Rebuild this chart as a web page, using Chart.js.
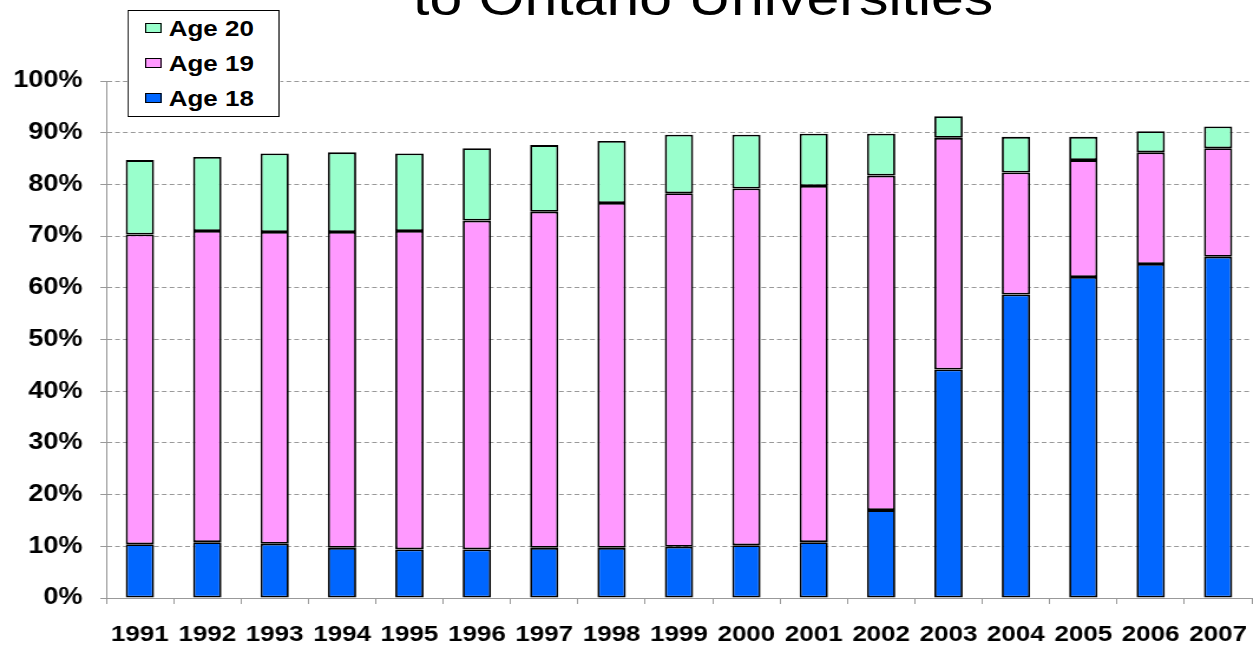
<!DOCTYPE html>
<html>
<head>
<meta charset="utf-8">
<script src="https://cdn.jsdelivr.net/npm/chart.js@4.4.0/dist/chart.umd.min.js"></script>
<style>
    html, body { margin:0; padding:0; background:#fff; overflow:hidden; }
    body { width:1253px; height:647px; position:relative; font-family:"Liberation Sans", Arial, sans-serif; }
    /* the original picture is stretched sideways, so the whole chart is too */
    #wrap { position:absolute; left:0; top:0; width:1062px; height:647px; transform:scaleX(1.1798); transform-origin:0 0; }
    #title { position:absolute; left:596px; top:-27px; transform:translateX(-50%); font-size:50px; line-height:50px; white-space:nowrap; color:#000; }
    #legend { position:absolute; left:108px; top:10px; width:129px; box-sizing:border-box; border:1.5px solid #000; background:#fff; padding-top:0; }
    #legend .row { display:flex; align-items:center; height:35px; font-size:22px; font-weight:bold; color:#000; }
    #legend .sw { width:14px; height:10px; box-sizing:border-box; border:1px solid #000; margin-left:14px; margin-right:6px; transform:translateY(-1px); }
</style>
</head>
<body>
<div id="wrap">
    <canvas id="chart" width="1062" height="647"></canvas>
    <div id="title">to Ontario Universities</div>
    <div id="legend"></div>
</div>
<script>
const years = ['1991','1992','1993','1994','1995','1996','1997','1998','1999','2000','2001','2002','2003','2004','2005','2006','2007'];
const age18 = [10.4, 10.8, 10.5, 9.7, 9.4, 9.4, 9.7, 9.7, 9.9, 10.2, 10.8, 17.0, 44.2, 58.7, 62.1, 64.6, 66.0];
const age19 = [59.9, 60.2, 60.3, 61.1, 61.6, 63.6, 65.0, 66.7, 68.4, 69.0, 68.9, 64.7, 44.8, 23.6, 22.6, 21.6, 21.0];
const age20 = [14.4, 14.3, 15.2, 15.4, 15.0, 14.0, 12.9, 12.0, 11.3, 10.4, 10.1, 8.1, 4.2, 6.9, 4.5, 4.1, 4.2];
const yTicks = [0, 10, 20, 30, 40, 50, 60, 70, 80, 90, 100];

const series = [
    { label:'Age 18', data:age18, color:'#0066FF' },
    { label:'Age 19', data:age19, color:'#FF99FF' },
    { label:'Age 20', data:age20, color:'#99FFCC' }
];

document.addEventListener('DOMContentLoaded', function(){
    const font = '"Liberation Sans", Arial, sans-serif';

    // legend box, top item first like the original
    const legend = document.getElementById('legend');
    legend.innerHTML = [...series].reverse().map(s =>
        `<div class="row"><span class="sw" style="background:${s.color}"></span>${s.label}</div>`
    ).join('');

    new Chart(document.getElementById('chart'), {
        type: 'bar',
        data: {
            labels: years,
            datasets: series.map(s => ({
                label: s.label,
                data: s.data,
                backgroundColor: s.color,
                borderColor: '#000',
                borderWidth: 1.8,
                borderSkipped: false,
                barPercentage: 0.42,
                categoryPercentage: 1
            }))
        },
        options: {
            responsive: false,
            animation: false,
            layout: { padding: { top:81, left:11, right:1, bottom:0 } },
            plugins: { legend:{ display:false }, title:{ display:false }, tooltip:{ enabled:false } },
            scales: {
                x: {
                    stacked: true,
                    offset: true,
                    afterFit: s => { s.height = 49; s.paddingLeft = 0; s.paddingRight = 0; },
                    grid: { display:true, drawOnChartArea:false, drawTicks:true, tickLength:6, color:'#999', offset:true },
                    border: { color:'#999', width:1 },
                    ticks: { color:'#000', font:{ family:font, size:22, weight:'bold' }, padding:18, autoSkip:false, maxRotation:0 }
                },
                y: {
                    stacked: true,
                    min: 0,
                    max: 100,
                    afterBuildTicks: s => { s.ticks = yTicks.map(v => ({ value:v })); },
                    afterFit: s => { s.width = 79; },
                    grid: { color:'#999', lineWidth:1, drawTicks:true, tickLength:5, tickBorderDash:[] },
                    border: { color:'#999', width:1, dash:[4,2.6] },
                    ticks: { color:'#000', font:{ family:font, size:23, weight:'bold' }, padding:15, callback: v => v + '%' }
                }
            }
        }
    });
});
</script>
</body>
</html>
